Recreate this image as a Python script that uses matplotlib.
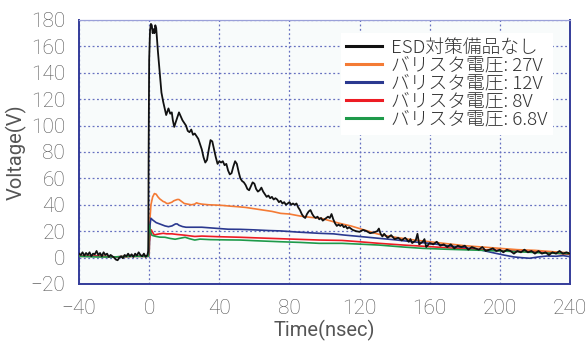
import matplotlib.pyplot as plt

plt.rcParams['font.family'] = ['Roboto', 'Noto Sans CJK JP', 'DejaVu Sans']
plt.rcParams['font.weight'] = 'light'

# ESD対策備品なし (black)
t_none = [-40, -39, -38, -37, -36, -35, -34, -33, -32, -31, -30, -29, -28, -27, -26, -25, -24, -23, -22, -21,
          -20, -19, -18, -17, -16, -15, -14, -13, -12, -11, -10, -9, -8, -7, -6, -5, -4, -3, -2, -1, -0.5,
          -0.3, 0, 0.5, 1, 1.5, 2, 2.5, 3, 3.5, 4, 4.5, 5, 6, 7, 8, 9, 9.7, 10.5, 11, 12, 12.9, 13.5, 14.3,
          15, 16, 17, 18, 19, 20, 21, 22, 23, 24, 25, 26, 27, 28, 29, 30, 31, 32, 33, 34, 35, 36, 37, 38,
          39, 40, 41, 42, 43, 44, 45, 46, 47, 48, 49, 50, 51, 52, 53, 54, 55, 56, 57, 58, 59, 60, 61, 62,
          63, 64, 65, 66, 67, 68, 69, 70, 71, 72, 73, 74, 75, 76, 77, 78, 79, 80, 81, 82, 83, 84, 85, 86,
          87, 88, 89, 90, 91, 92, 93, 94, 95, 96, 97, 98, 99, 100, 101, 102, 103, 104, 105, 106, 107, 108,
          109, 110, 111, 112, 113, 114, 116, 118, 120, 122, 124, 126, 128, 130, 131, 132, 133, 134, 136,
          138, 140, 142, 144, 146, 148, 149, 150, 152, 153, 154, 156, 157, 158, 160, 162, 164, 166, 168,
          170, 172, 174, 176, 178, 180, 182, 184, 186, 188, 190, 192, 194, 196, 198, 200, 202, 204, 206,
          208, 210, 212, 214, 216, 218, 220, 222, 224, 226, 228, 230, 232, 234, 236, 238, 240]
v_none = [3, 2, 4, 1.5, 3.5, 2, 4, 1, 3, 2.5, 5, 2, 3.5, 1, 4, 2, 3, 0.5, 2, 1,
          0, -1.5, -2, 0, 1, -0.5, 2, 1, 3, 1, 2.5, 0.5, 3, 1.5, 4, 2, 1, 3, 0.5, 2, 5,
          80, 150, 172, 177, 176, 170, 173, 170, 176, 174, 165, 156, 140, 125, 118, 112, 108, 111,
          113, 109, 110, 104, 99, 102, 106, 110, 107, 104, 102, 100, 96, 95, 97, 93, 94, 92, 90, 86,
          82, 76, 72, 74, 82, 89, 88, 82, 76, 71, 73, 72, 73, 70, 71, 66, 63, 64, 69, 73, 71, 65, 60,
          58, 57, 55, 52, 51, 54, 57, 56, 52, 50, 51, 53, 50, 48, 46, 47, 45, 46, 44, 45, 44, 42, 43,
          41, 42, 40, 41, 42, 40, 41, 40, 41, 38, 36, 33, 31, 30, 33, 35, 36, 33, 31, 30, 31, 29, 30,
          28, 29, 30, 31, 30, 33, 29, 26, 24, 25, 24, 25, 23, 24, 22, 23, 21, 20, 19.5, 21, 20, 18.5,
          19, 20, 22, 18, 16, 18, 15, 17, 14, 15, 13, 15, 12, 14, 11, 13, 18, 10, 12, 14, 8, 11, 10,
          12, 9, 10, 8, 10, 7, 9, 8, 9, 6, 8, 7, 6, 8, 5, 6, 7, 5, 6, 4, 6, 5, 3, 5, 4, 6, 4, 5, 3, 5,
          3, 4, 2, 4, 3, 5, 3, 4, 3]

# バリスタ電圧: 27V (orange)
t_27 = [-40, -30, -20, -10, -0.5, 0, 0.5, 1, 2, 3, 4, 5, 6, 7, 8, 9, 10, 11, 12, 13, 14, 15, 16, 17,
        18, 19, 20, 22, 24, 26, 27, 28, 30, 34, 38, 42, 46, 50, 55, 60, 65, 70, 75, 80, 86, 92, 98,
        105, 110, 115, 120, 125, 130, 135, 140, 150, 160, 170, 180, 190, 200, 210, 220, 230, 240]
v_27 = [1, 1.5, 0.5, 1, 1, 2, 30, 40, 46, 48.5, 48, 46, 44.5, 43.5, 42.5, 42, 41, 41, 41.5, 42, 43,
        43.5, 44, 44, 43, 42, 41, 40.5, 40, 40.5, 41.5, 41, 40.5, 40, 39.8, 39.5, 39, 38.6, 38, 37,
        36, 35, 33.5, 33, 31.5, 30.5, 29.8, 27.2, 25.5, 24, 22, 20, 18, 16.5, 15.5, 13.5, 12, 10.5,
        9, 8, 7, 6, 5.5, 4.5, 3.5]

# バリスタ電圧: 12V (blue)
t_12 = [-40, -30, -20, -10, -0.5, 0, 0.5, 1, 2, 3, 4, 5, 7, 9, 11, 13, 15, 16, 17, 19, 21, 25, 30,
        35, 40, 45, 52, 60, 68, 75, 85, 97, 105, 111, 120, 131, 140, 150, 160, 170, 180, 189, 195,
        202, 208, 212, 217, 222, 227, 232, 236, 240]
v_12 = [1, 1, 0.5, 1, 1, 5, 25, 29.8, 28.5, 27.5, 26.5, 26, 25, 24, 23.4, 24, 25.5, 25.5, 24.5, 23.5,
        23, 23, 23, 22.5, 22, 21.5, 21.4, 21, 20.5, 20.2, 19.3, 18.4, 18, 17.1, 16, 14.6, 13.5, 12,
        10.8, 9, 7.5, 5.8, 4, 2, 0.5, 0, -0.5, 0.5, 1.2, 1, 1.5, 0.7]

# バリスタ電圧: 8V (red)
t_8 = [-40, -30, -20, -10, -0.5, 0, 0.5, 1.2, 2, 3, 4, 6, 8, 10, 13, 16, 20, 26, 30, 40, 52, 60, 75,
       86, 97, 110, 120, 131, 145, 160, 175, 190, 205, 217, 230, 240]
v_8 = [1, 1, 0.5, 1, 1, 12, 18, 21, 19, 17, 17.5, 18, 18.4, 18, 18, 17.5, 17, 16, 16.3, 15.8, 15.4,
       15, 14.3, 13.8, 13.3, 13, 12, 10.8, 9.5, 8.3, 7, 6, 5, 4.5, 3.5, 2.5]

# バリスタ電圧: 6.8V (green)
t_68 = [-40, -30, -20, -10, -0.5, 0, 0.7, 1.5, 2.5, 4, 6, 9, 12, 14.8, 17, 20.5, 23, 26, 29, 35, 45,
        52, 60, 75, 86, 97, 110, 120, 131, 145, 156, 170, 190, 210, 225, 240]
v_68 = [1, 0.5, 0.5, 1, 1, 24.7, 20, 17, 16.5, 16, 15.5, 15.4, 14.5, 13.9, 14.5, 15.4, 14.3, 13.3,
        14, 13.6, 13.4, 13.3, 12.8, 12, 11.5, 10.8, 10.8, 10.2, 9.5, 8, 7, 6.3, 5.5, 4.5, 3.5, 3]

labels = ['ESD対策備品なし', 'バリスタ電圧: 27V', 'バリスタ電圧: 12V', 'バリスタ電圧: 8V', 'バリスタ電圧: 6.8V']
xticks = [-40, 0, 40, 80, 120, 160, 200, 240]
yticks = [-20, 0, 20, 40, 60, 80, 100, 120, 140, 160, 180]

fig = plt.figure(figsize=(5.88, 3.42), dpi=100)
ax = fig.add_axes([0.1344, 0.1696, 0.835, 0.772])
ax.set_facecolor('#f8fbfb')

ax.plot(t_none, v_none, color='#111111', lw=1.3, label=labels[0], zorder=5)
ax.plot(t_27, v_27, color='#f47b35', lw=1.2, label=labels[1], zorder=3)
ax.plot(t_12, v_12, color='#2b3990', lw=1.2, label=labels[2], zorder=3)
ax.plot(t_8, v_8, color='#ed1c24', lw=1.2, label=labels[3], zorder=3)
ax.plot(t_68, v_68, color='#1e9a4a', lw=1.2, label=labels[4], zorder=3)

ax.set_xlim(-40, 240)
ax.set_ylim(-20, 180)
ax.set_xticks(xticks)
ax.set_yticks(yticks)
ax.grid(True, linestyle=(0, (1.5, 2)), color='#6670c0', lw=0.9)
ax.set_axisbelow(True)
ax.tick_params(length=0, labelsize=15, colors='#555555')
ax.tick_params(axis='x', pad=11)
ax.tick_params(axis='y', pad=10)

for s in ['left', 'bottom', 'right']:
    ax.spines[s].set_color('#343c9a')
    ax.spines[s].set_linewidth(1.4)
ax.spines['top'].set_color('#9aa0d8')
ax.spines['top'].set_linewidth(0.9)

ax.set_xlabel('Time(nsec)', fontsize=14.5, color='#555555', labelpad=1)
ax.set_ylabel('Voltage(V)', fontsize=14.5, color='#555555', labelpad=3)

leg = ax.legend(handles=ax.get_lines(), loc='upper right', bbox_to_anchor=(0.985, 0.985),
                frameon=True, fancybox=False, edgecolor='none', facecolor='white', framealpha=1,
                handlelength=1.9, handletextpad=0.5, labelspacing=0.0, borderpad=0.3,
                prop={'family': ['Noto Sans CJK JP'], 'size': 13.5})
for txt in leg.get_texts():
    txt.set_color('#333333')
for ln in leg.get_lines():
    ln.set_linewidth(2.2)

fig.savefig('out.png', dpi=100)
